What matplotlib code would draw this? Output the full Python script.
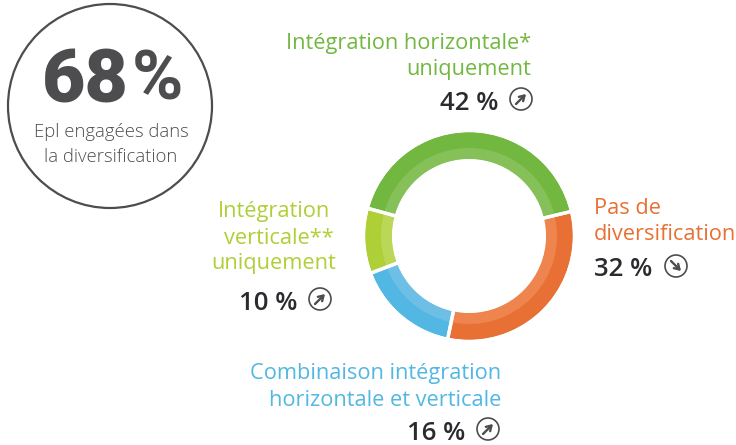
import matplotlib
matplotlib.use('Agg')
import matplotlib.pyplot as plt
from matplotlib.patches import Circle

# order clockwise starting from the orange slice
categories = ['Pas de diversification', 'Combinaison', 'Verticale', 'Horizontale']
values = [32, 16, 10, 42]
colors_outer = ['#e97035', '#52b7e2', '#aecf36', '#72b840']
colors_inner = ['#ee844e', '#6dbfe6', '#bad757', '#86c058']
arrows = ['down', 'up', 'up', 'up']

GREY = '#4d4d4f'
DARK = '#2b2a2e'
plt.rcParams['font.family'] = ['Open Sans', 'DejaVu Sans']

fig = plt.figure(figsize=(7.36, 4.45), dpi=100)
ax = fig.add_axes([0, 0, 1, 1])

CX, CY = 469, 236
START = -13.5
# y axis is inverted below, so counterclock=True runs clockwise on screen
ax.pie(values, colors=colors_outer, radius=104, center=(CX, CY), startangle=START,
       counterclock=True, frame=True, wedgeprops=dict(width=30, linewidth=0))
ax.pie(values, colors=colors_inner, radius=88, center=(CX, CY), startangle=START,
       counterclock=True, frame=True, wedgeprops=dict(width=11, linewidth=0))
# white separators between the slices
ax.pie(values, colors=['none'] * 4, radius=106, center=(CX, CY), startangle=START,
       counterclock=True, frame=True,
       wedgeprops=dict(width=31, edgecolor='white', linewidth=2.4))
ax.add_patch(Circle((CX, CY), 77, fc='white', ec='none'))
ax.add_patch(Circle((CX, CY), 105.5, fill=False, ec='white', lw=2.5))
ax.set_xlim(0, 736)
ax.set_ylim(445, 0)
ax.set_aspect('equal')
ax.axis('off')


def arrow_icon(x, y, direction):
    ax.add_patch(Circle((x, y), 11, fill=False, ec=GREY, lw=1.2))
    if direction == 'up':
        a, b = (x - 5, y + 5), (x + 5, y - 5)
    else:
        a, b = (x - 5, y - 5), (x + 5, y + 5)
    ax.annotate('', xy=b, xytext=a,
                arrowprops=dict(arrowstyle='->,head_length=0.35,head_width=0.22', color=GREY, lw=1.7,
                                shrinkA=0, shrinkB=0))


# big circle top left
ax.add_patch(Circle((110, 106), 102, fill=False, ec=GREY, lw=1.6))
ax.text(85, 82, '68', color=GREY, fontsize=54, fontweight='black', family='Roboto',
        ha='center', va='center')
ax.text(157, 81, '%', color=GREY, fontsize=50, fontweight='bold', family='Roboto',
        ha='center', va='center')
ax.text(111, 132, 'Epl engagées dans', color=GREY, fontsize=13.3, fontweight='light', ha='center', va='center')
ax.text(111, 157, 'la diversification', color=GREY, fontsize=13.3, fontweight='light', ha='center', va='center')

# labels
GREEN, ORANGE, LIME, BLUE = '#72b840', '#e97035', '#aecf36', '#52b7e2'
LS = 15.7
PS = 18.5
ax.text(531, 44, 'Intégration horizontale*', color=GREEN, fontsize=LS, ha='right', va='center')
ax.text(531, 70, 'uniquement', color=GREEN, fontsize=LS, ha='right', va='center')
ax.text(498, 103, '42 %', color=DARK, fontsize=PS, fontweight='semibold', ha='right', va='center')
arrow_icon(521, 99, arrows[3])

ax.text(594, 208, 'Pas de', color=ORANGE, fontsize=LS, ha='left', va='center')
ax.text(594, 234, 'diversification', color=ORANGE, fontsize=LS, ha='left', va='center')
ax.text(652, 270, '32 %', color=DARK, fontsize=PS, fontweight='semibold', ha='right', va='center')
arrow_icon(676, 266, arrows[0])

ax.text(274, 212, 'Intégration', color=LIME, fontsize=LS, ha='center', va='center')
ax.text(279, 238, 'verticale**', color=LIME, fontsize=LS, ha='center', va='center')
ax.text(274, 264, 'uniquement', color=LIME, fontsize=LS, ha='center', va='center')
ax.text(297, 303, '10 %', color=DARK, fontsize=PS, fontweight='semibold', ha='right', va='center')
arrow_icon(320, 299, arrows[2])

ax.text(501, 374, 'Combinaison intégration', color=BLUE, fontsize=LS, ha='right', va='center')
ax.text(501, 400, 'horizontale et verticale', color=BLUE, fontsize=LS, ha='right', va='center')
ax.text(465, 433, '16 %', color=DARK, fontsize=PS, fontweight='semibold', ha='right', va='center')
arrow_icon(488, 429, arrows[1])

fig.savefig('out.png', dpi=100, facecolor='white')
